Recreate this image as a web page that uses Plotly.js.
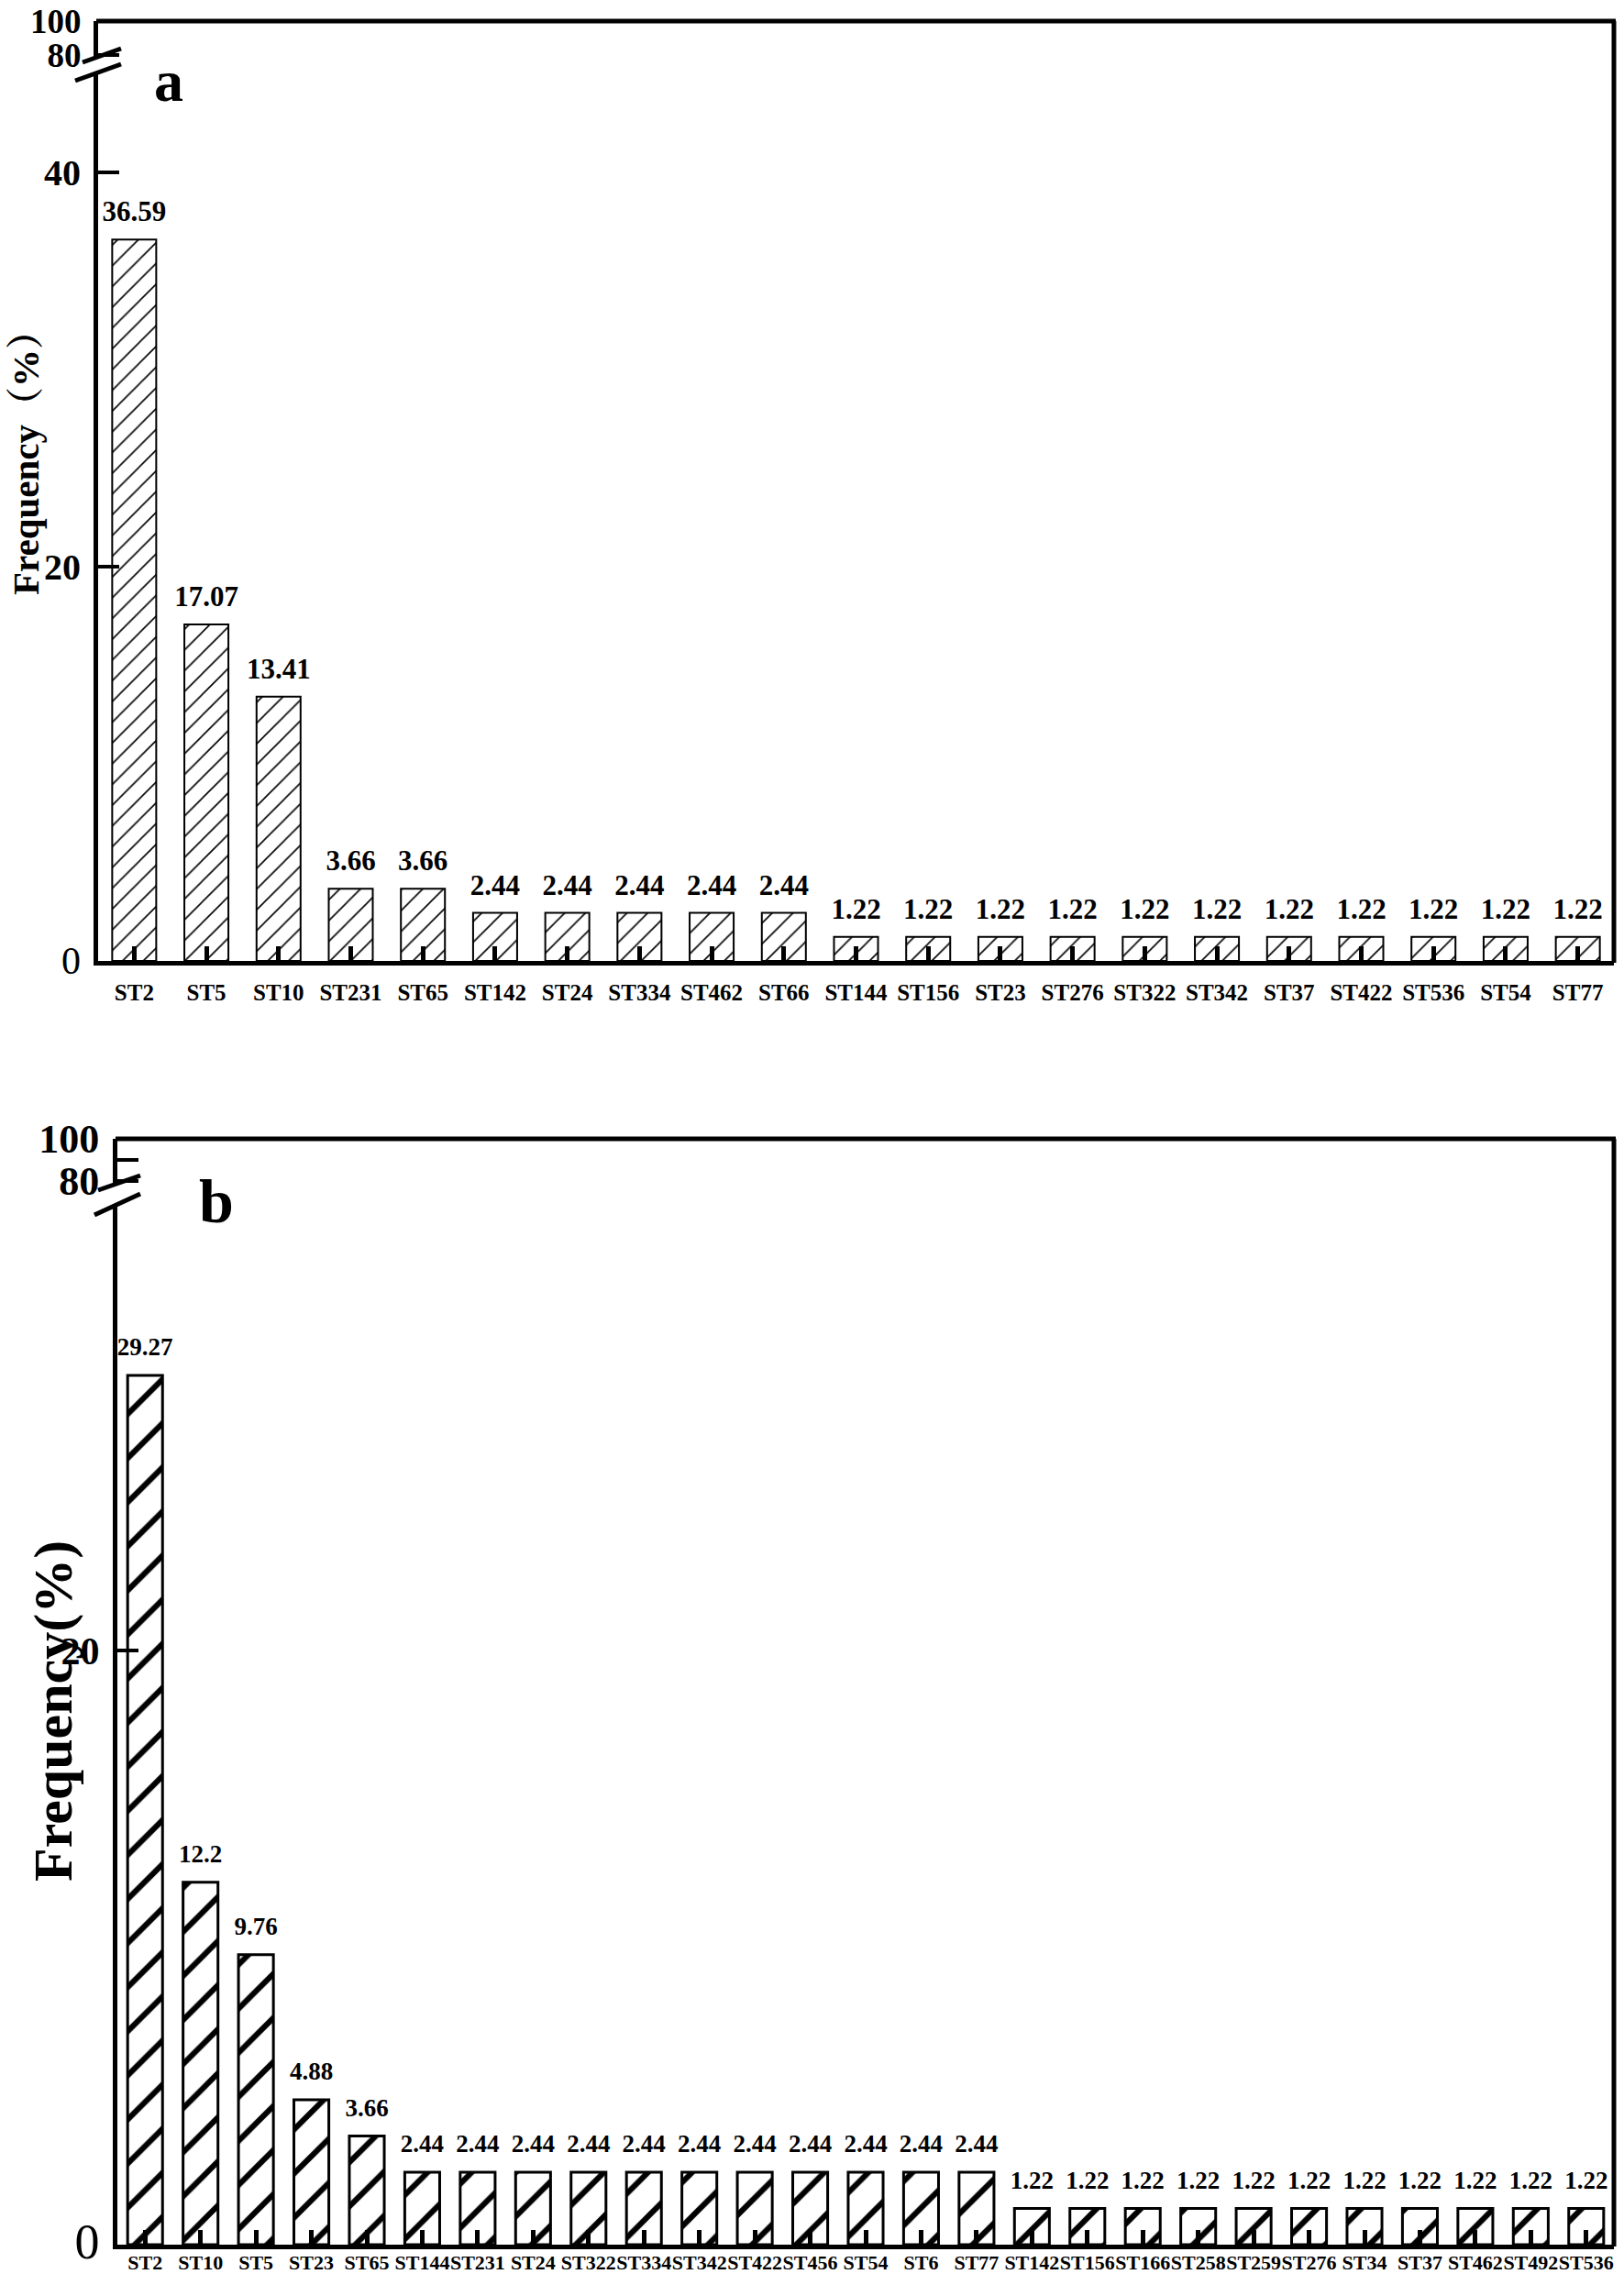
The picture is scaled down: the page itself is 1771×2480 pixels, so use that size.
<!DOCTYPE html>
<html><head><meta charset="utf-8">
<script src="https://cdn.plot.ly/plotly-3.0.1.min.js"></script>
<style>html,body{margin:0;padding:0;background:#fff}</style>
</head><body><div id="chart" style="width:1771px;height:2480px"></div>
<script>
// ---- data ----
const catsA = ['ST2','ST5','ST10','ST231','ST65','ST142','ST24','ST334','ST462','ST66','ST144','ST156','ST23','ST276','ST322','ST342','ST37','ST422','ST536','ST54','ST77'];
const valsA = [36.59,17.07,13.41,3.66,3.66,2.44,2.44,2.44,2.44,2.44,1.22,1.22,1.22,1.22,1.22,1.22,1.22,1.22,1.22,1.22,1.22];
const catsB = ['ST2','ST10','ST5','ST23','ST65','ST144','ST231','ST24','ST322','ST334','ST342','ST422','ST456','ST54','ST6','ST77','ST142','ST156','ST166','ST258','ST259','ST276','ST34','ST37','ST462','ST492','ST536'];
const valsB = [29.27,12.2,9.76,4.88,3.66,2.44,2.44,2.44,2.44,2.44,2.44,2.44,2.44,2.44,2.44,2.44,1.22,1.22,1.22,1.22,1.22,1.22,1.22,1.22,1.22,1.22,1.22];
const yTicksALow = [0,20,40];
const yTicksAUp = [80,100];
const yTicksBLow = [0,20];
const yTicksBUp = [80,90,100];
const yTitleA = 'Frequency（%）';
const yTitleB = 'Frequency(%)';

// ---- helpers ----
const W = 1771, H = 2480;
const px = x => x / W;
const py = y => 1 - y / H;
const FONT = "'Liberation Serif', 'Noto Serif CJK SC', 'Noto Sans CJK SC', serif";
const zeroLbl = s => '<span style="font-weight:normal;font-size:' + s + 'px">0</span>';

const traces = [
  {type:'bar', x:catsA, y:valsA, xaxis:'x', yaxis:'y', width:0.61,
   marker:{color:'white', line:{color:'black', width:2},
     pattern:{shape:'/', fgcolor:'black', bgcolor:'white', size:16, solidity:0.1}},
   hoverinfo:'skip', showlegend:false},
  {type:'scatter', mode:'markers+text', x:catsA, y:valsA, xaxis:'x', yaxis:'y',
   text:valsA.map(String), textposition:'top center',
   textfont:{family:FONT, size:31, color:'black', weight:700},
   marker:{size:18, opacity:0}, cliponaxis:false, hoverinfo:'skip', showlegend:false},
  // empty traces so the upper (broken) axis segments are drawn
  {type:'scatter', mode:'markers', x:[catsA[0]], y:[null], xaxis:'x', yaxis:'y3',
   hoverinfo:'skip', showlegend:false},
  {type:'bar', x:catsB, y:valsB, xaxis:'x2', yaxis:'y2', width:0.63,
   marker:{color:'white', line:{color:'black', width:3},
     pattern:{shape:'/', fgcolor:'black', bgcolor:'white', size:34, solidity:0.18}},
   hoverinfo:'skip', showlegend:false},
  {type:'scatter', mode:'markers+text', x:catsB, y:valsB, xaxis:'x2', yaxis:'y2',
   text:valsB.map(String), textposition:'top center',
   textfont:{family:FONT, size:27, color:'black', weight:700},
   marker:{size:22, opacity:0}, cliponaxis:false, hoverinfo:'skip', showlegend:false},
  {type:'scatter', mode:'markers', x:[catsB[0]], y:[null], xaxis:'x2', yaxis:'y4',
   hoverinfo:'skip', showlegend:false}
];

const common = {showgrid:false, zeroline:false, showline:true, linecolor:'black', color:'black',
  fixedrange:true, ticklabeloverflow:'allow'};

const TOPA = 23;

const layout = {
  width:W, height:H, margin:{l:0,r:0,t:0,b:0}, paper_bgcolor:'white', plot_bgcolor:'white',
  font:{family:FONT, color:'black'},
  xaxis: Object.assign({}, common, {domain:[px(107), px(1760)], anchor:'y', type:'category',
    range:[-0.5, catsA.length-0.5], tickmode:'array', tickvals:catsA, ticktext:catsA, tickangle:0,
    ticks:'inside', ticklen:16, tickwidth:5, tickcolor:'black', linewidth:5, ticklabelstandoff:8,
    tickfont:{family:FONT, size:25, weight:700}}),
  yaxis: Object.assign({}, common, {domain:[py(1048), py(79)], anchor:'x', range:[0, 45.07],
    tickmode:'array', tickvals:yTicksALow, ticktext:yTicksALow.map(v => v===0 ? zeroLbl(42) : String(v)),
    ticks:'inside', ticklen:23, tickwidth:4, tickcolor:'black', linewidth:5, ticklabelstandoff:6,
    tickfont:{family:FONT, size:40, weight:700}}),
  yaxis3: Object.assign({}, common, {domain:[py(62), py(TOPA)], anchor:'x', range:[79, 100],
    tickmode:'array', tickvals:yTicksAUp, ticktext:yTicksAUp.map(String),
    ticks:'inside', ticklen:23, tickwidth:4, tickcolor:'black', linewidth:5, ticklabelstandoff:6,
    tickfont:{family:FONT, size:37, weight:700}}),
  xaxis2: Object.assign({}, common, {domain:[px(128), px(1760)], anchor:'y2', type:'category',
    range:[-0.5, catsB.length-0.5], tickmode:'array', tickvals:catsB, ticktext:catsB, tickangle:0,
    ticks:'inside', ticklen:16, tickwidth:5, tickcolor:'black', linewidth:5, ticklabelstandoff:-4,
    tickfont:{family:FONT, size:22, weight:700}}),
  yaxis2: Object.assign({}, common, {domain:[py(2448), py(1313)], anchor:'x2', range:[0, 35.04],
    tickmode:'array', tickvals:yTicksBLow, ticktext:yTicksBLow.map(v => v===0 ? zeroLbl(54) : String(v)),
    ticks:'inside', ticklen:23, tickwidth:4, tickcolor:'black', linewidth:5, ticklabelstandoff:6,
    tickfont:{family:FONT, size:42, weight:700}}),
  yaxis4: Object.assign({}, common, {domain:[py(1291), py(1242)], anchor:'x2', range:[78.7, 100],
    tickmode:'array', tickvals:yTicksBUp, ticktext:yTicksBUp.map(v => v===90 ? '' : String(v)),
    ticks:'inside', ticklen:23, tickwidth:4, tickcolor:'black', linewidth:5, ticklabelstandoff:6,
    tickfont:{family:FONT, size:44, weight:700}}),
  shapes: [
    {type:'line', xref:'paper', yref:'paper', x0:px(105), x1:px(1762), y0:py(TOPA), y1:py(TOPA), line:{color:'black', width:5}},
    {type:'line', xref:'paper', yref:'paper', x0:px(1760), x1:px(1760), y0:py(TOPA), y1:py(1050), line:{color:'black', width:5}},
    {type:'line', xref:'paper', yref:'paper', x0:px(90), x1:px(132), y0:py(68), y1:py(53), line:{color:'black', width:5}},
    {type:'line', xref:'paper', yref:'paper', x0:px(82), x1:px(132), y0:py(88), y1:py(70), line:{color:'black', width:5}},
    {type:'line', xref:'paper', yref:'paper', x0:px(126), x1:px(1762), y0:py(1242), y1:py(1242), line:{color:'black', width:5}},
    {type:'line', xref:'paper', yref:'paper', x0:px(1760), x1:px(1760), y0:py(1242), y1:py(2450), line:{color:'black', width:5}},
    {type:'line', xref:'paper', yref:'paper', x0:px(107), x1:px(153), y0:py(1298), y1:py(1282), line:{color:'black', width:5}},
    {type:'line', xref:'paper', yref:'paper', x0:px(103), x1:px(153), y0:py(1325), y1:py(1302), line:{color:'black', width:5}}
  ],
  annotations: [
    {text:yTitleA, xref:'paper', yref:'paper', x:px(28), y:py(495), xanchor:'center', yanchor:'middle',
     textangle:-90, showarrow:false, font:{family:FONT, size:41, weight:700, color:'black'}},
    {text:yTitleB, xref:'paper', yref:'paper', x:px(58), y:py(1866), xanchor:'center', yanchor:'middle',
     textangle:-90, showarrow:false, font:{family:FONT, size:60, weight:700, color:'black'}},
    {text:'a', xref:'paper', yref:'paper', x:px(184), y:py(88), xanchor:'center', yanchor:'middle',
     showarrow:false, font:{family:FONT, size:64, weight:700, color:'black'}},
    {text:'b', xref:'paper', yref:'paper', x:px(236), y:py(1310), xanchor:'center', yanchor:'middle',
     showarrow:false, font:{family:FONT, size:68, weight:700, color:'black'}}
  ]
};

Plotly.newPlot('chart', traces, layout, {staticPlot:true, displayModeBar:false});
</script></body></html>
